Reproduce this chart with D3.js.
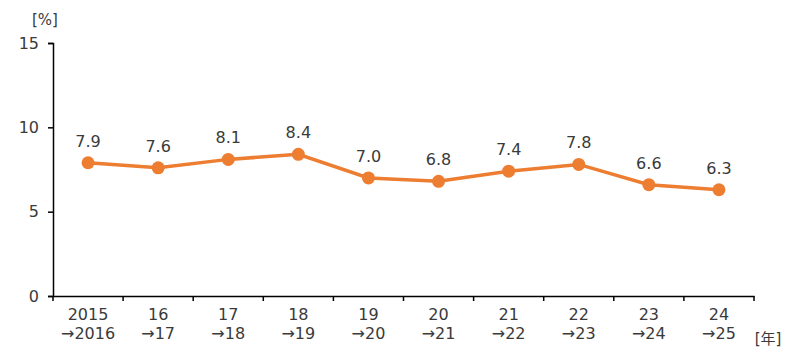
<!DOCTYPE html>
<html>
<head>
<meta charset="utf-8">
<script src="https://cdn.jsdelivr.net/npm/d3@7"></script>
<style>
  body { margin: 0; background: #fff; }
  text { font-family: "DejaVu Sans", "Noto Sans CJK JP", sans-serif; fill: #3a3a3a; }
</style>
</head>
<body>
<div id="chart"></div>
<script>
var width = 800;
var height = 358;

// 年度 (2015→2016 ... 24→25)
var topLabels = ['2015', '16', '17', '18', '19', '20', '21', '22', '23', '24'];
var bottomLabels = ['→2016', '→17', '→18', '→19', '→20', '→21', '→22', '→23', '→24', '→25'];
var values = [7.9, 7.6, 8.1, 8.4, 7.0, 6.8, 7.4, 7.8, 6.6, 6.3];
var yTicks = [0, 5, 10, 15];

var plotLeft = 53, plotRight = 754, plotTop = 43, plotBottom = 296;

var x = d3.scaleBand()
  .domain(topLabels)
  .range([plotLeft, plotRight]);

var y = d3.scaleLinear()
  .domain([0, 15])
  .range([plotBottom, plotTop]);

var svg = d3.select('#chart')
  .append('svg')
    .attr('width', width)
    .attr('height', height);

// y axis
var yAxis = svg.append('g')
  .attr('transform', 'translate(' + plotLeft + ',0)')
  .call(d3.axisLeft(y).tickValues(yTicks).tickSize(5).tickPadding(9));
yAxis.select('.domain').attr('stroke', '#000').attr('stroke-width', 1.5);
yAxis.selectAll('.tick line').attr('stroke', '#000').attr('stroke-width', 1.5);
yAxis.selectAll('.tick text')
  .style('font-size', '16px')
  .style('font-family', '"DejaVu Sans", sans-serif')
  .attr('fill', '#3a3a3a');

// x axis
var xAxis = svg.append('g')
  .attr('transform', 'translate(0,' + plotBottom + ')')
  .call(d3.axisBottom(x).tickSize(0).tickFormat(''));
xAxis.select('.domain').attr('stroke', '#000').attr('stroke-width', 1.5);

// tick marks between categories
var edges = topLabels.map(function(d) { return x(d); }).concat([plotRight]);
svg.append('g').selectAll('line')
  .data(edges).enter()
  .append('line')
    .attr('x1', function(d) { return d; })
    .attr('x2', function(d) { return d; })
    .attr('y1', plotBottom)
    .attr('y2', plotBottom + 5)
    .attr('stroke', '#000')
    .attr('stroke-width', 1.5);

// category labels (two lines)
var cat = svg.append('g').selectAll('text')
  .data(topLabels).enter()
  .append('text')
    .attr('text-anchor', 'middle')
    .style('font-size', '16px');
cat.append('tspan')
  .attr('x', function(d) { return x(d) + x.bandwidth() / 2; })
  .attr('y', 320)
  .text(function(d) { return d; });
cat.append('tspan')
  .attr('x', function(d) { return x(d) + x.bandwidth() / 2; })
  .attr('y', 339)
  .text(function(d, i) { return bottomLabels[i]; });

// unit labels
svg.append('text')
  .attr('x', 45).attr('y', 25)
  .attr('text-anchor', 'middle')
  .style('font-size', '15px')
  .text('[%]');
svg.append('text')
  .attr('x', 768).attr('y', 344)
  .attr('text-anchor', 'middle')
  .style('font-size', '15px')
  .text('[年]');

// line
var line = d3.line()
  .x(function(d, i) { return x(topLabels[i]) + x.bandwidth() / 2; })
  .y(function(d) { return y(d); });

svg.append('path')
  .datum(values)
  .attr('d', line)
  .attr('fill', 'none')
  .attr('stroke', '#ED7D31')
  .attr('stroke-width', 3.5);

svg.append('g').selectAll('circle')
  .data(values).enter()
  .append('circle')
    .attr('cx', function(d, i) { return x(topLabels[i]) + x.bandwidth() / 2; })
    .attr('cy', function(d) { return y(d); })
    .attr('r', 6.5)
    .attr('fill', '#ED7D31');

// value labels
svg.append('g').selectAll('text')
  .data(values).enter()
  .append('text')
    .attr('x', function(d, i) { return x(topLabels[i]) + x.bandwidth() / 2; })
    .attr('y', function(d) { return y(d) - 16; })
    .attr('text-anchor', 'middle')
    .style('font-size', '16px')
    .text(function(d) { return d.toFixed(1); });
</script>
</body>
</html>
